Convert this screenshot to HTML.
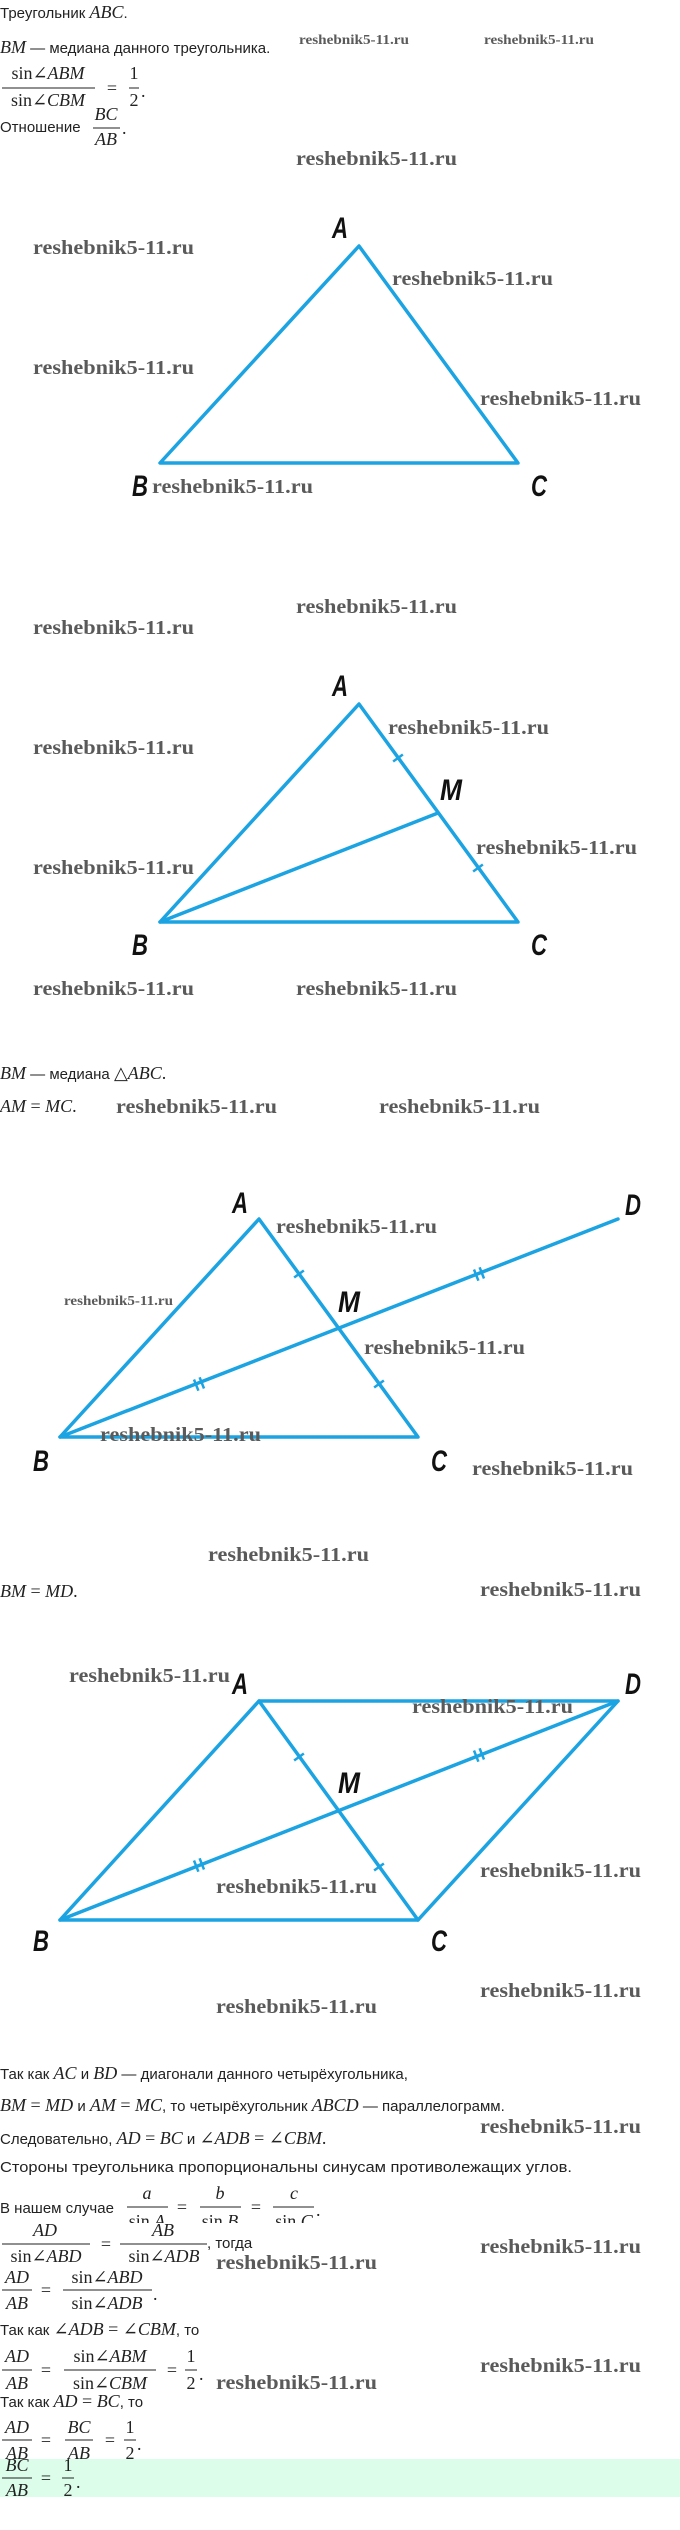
<!DOCTYPE html>
<html><head><meta charset="utf-8">
<style>
html,body{margin:0;padding:0;background:#fff;}
svg{display:block;}
.t{font-family:"Liberation Sans","DejaVu Sans",sans-serif;font-size:15px;fill:#222;}
.m{font-family:"Liberation Serif","DejaVu Serif",serif;font-style:italic;font-size:18px;fill:#222;}
.r{font-family:"Liberation Serif","DejaVu Serif",serif;font-style:normal;font-size:18px;fill:#222;}
.w{font-family:"Liberation Serif","DejaVu Serif",serif;font-weight:bold;font-size:20px;fill:#5a5a5a;}
.ws{font-family:"Liberation Serif","DejaVu Serif",serif;font-weight:bold;font-size:14px;fill:#5a5a5a;}
.L{font-family:"Liberation Sans","DejaVu Sans",sans-serif;font-weight:bold;font-style:italic;font-size:30px;fill:#111;}
.b{stroke:#1ba3e2;stroke-width:3.5;fill:none;stroke-linecap:round;stroke-linejoin:round;}
.k{stroke:#1ba3e2;stroke-width:2.5;}
.bar{stroke:#222;stroke-width:1;}
</style></head><body>
<svg width="680" height="2530" viewBox="0 0 680 2530" xmlns="http://www.w3.org/2000/svg">
<!-- header text -->
<text x="0" y="18" class="t">Треугольник <tspan class="m">ABC</tspan>.</text>
<text x="0" y="53"><tspan class="m">BM</tspan><tspan class="t"> — медиана данного треугольника.</tspan></text>
<text x="299" y="44" class="ws" textLength="110" lengthAdjust="spacingAndGlyphs">reshebnik5-11.ru</text>
<text x="484" y="44" class="ws" textLength="110" lengthAdjust="spacingAndGlyphs">reshebnik5-11.ru</text>
<text x="48" y="79" class="r" text-anchor="middle">sin∠<tspan class="m">ABM</tspan></text>
<line x1="2" y1="88" x2="95" y2="88" class="bar"/>
<text x="48" y="106" class="r" text-anchor="middle">sin∠<tspan class="m">CBM</tspan></text>
<text x="112" y="94" class="r" text-anchor="middle">=</text>
<text x="134" y="79" class="r" text-anchor="middle">1</text>
<line x1="129" y1="88" x2="139" y2="88" class="bar"/>
<text x="134" y="106" class="r" text-anchor="middle">2</text>
<text x="141" y="97" class="r">.</text>
<text x="0" y="132" class="t">Отношение</text>
<text x="106" y="120" class="m" text-anchor="middle">BC</text>
<line x1="93" y1="128" x2="120" y2="128" class="bar"/>
<text x="106" y="145" class="m" text-anchor="middle">AB</text>
<text x="122" y="134" class="r">.</text>

<!-- triangle 1 -->
<text x="296" y="165" class="w" textLength="161" lengthAdjust="spacingAndGlyphs">reshebnik5-11.ru</text>
<polygon points="359,246 160,463 518,463" class="b"/>
<text x="332" y="238" class="L" textLength="16" lengthAdjust="spacingAndGlyphs">A</text>
<text x="132" y="496" class="L" textLength="16" lengthAdjust="spacingAndGlyphs">B</text>
<text x="531" y="496" class="L" textLength="16" lengthAdjust="spacingAndGlyphs">C</text>
<text x="33" y="254" class="w" textLength="161" lengthAdjust="spacingAndGlyphs">reshebnik5-11.ru</text>
<text x="33" y="374" class="w" textLength="161" lengthAdjust="spacingAndGlyphs">reshebnik5-11.ru</text>
<text x="392" y="285" class="w" textLength="161" lengthAdjust="spacingAndGlyphs">reshebnik5-11.ru</text>
<text x="480" y="405" class="w" textLength="161" lengthAdjust="spacingAndGlyphs">reshebnik5-11.ru</text>
<text x="152" y="493" class="w" textLength="161" lengthAdjust="spacingAndGlyphs">reshebnik5-11.ru</text>

<!-- triangle 2 -->
<text x="296" y="613" class="w" textLength="161" lengthAdjust="spacingAndGlyphs">reshebnik5-11.ru</text>
<text x="33" y="634" class="w" textLength="161" lengthAdjust="spacingAndGlyphs">reshebnik5-11.ru</text>
<polygon points="359,704 160,922 518,922" class="b"/>
<line x1="160" y1="922" x2="438" y2="813" class="b"/>
<line x1="393.15" y1="761.5" x2="402.85" y2="754.5" class="k"/>
<line x1="473.15" y1="871.5" x2="482.85" y2="864.5" class="k"/>
<text x="332" y="696" class="L" textLength="16" lengthAdjust="spacingAndGlyphs">A</text>
<text x="440" y="800" class="L" textLength="22" lengthAdjust="spacingAndGlyphs">M</text>
<text x="132" y="955" class="L" textLength="16" lengthAdjust="spacingAndGlyphs">B</text>
<text x="531" y="955" class="L" textLength="16" lengthAdjust="spacingAndGlyphs">C</text>
<text x="388" y="734" class="w" textLength="161" lengthAdjust="spacingAndGlyphs">reshebnik5-11.ru</text>
<text x="33" y="754" class="w" textLength="161" lengthAdjust="spacingAndGlyphs">reshebnik5-11.ru</text>
<text x="476" y="854" class="w" textLength="161" lengthAdjust="spacingAndGlyphs">reshebnik5-11.ru</text>
<text x="33" y="874" class="w" textLength="161" lengthAdjust="spacingAndGlyphs">reshebnik5-11.ru</text>
<text x="33" y="995" class="w" textLength="161" lengthAdjust="spacingAndGlyphs">reshebnik5-11.ru</text>
<text x="296" y="995" class="w" textLength="161" lengthAdjust="spacingAndGlyphs">reshebnik5-11.ru</text>

<text x="0" y="1079"><tspan class="m">BM</tspan><tspan class="t"> — медиана </tspan><tspan class="r">△</tspan><tspan class="m">ABC</tspan><tspan class="r">.</tspan></text>
<text x="0" y="1112"><tspan class="m">AM</tspan><tspan class="r"> = </tspan><tspan class="m">MC</tspan><tspan class="r">.</tspan></text>
<text x="116" y="1113" class="w" textLength="161" lengthAdjust="spacingAndGlyphs">reshebnik5-11.ru</text>
<text x="379" y="1113" class="w" textLength="161" lengthAdjust="spacingAndGlyphs">reshebnik5-11.ru</text>

<!-- triangle 3 -->
<polygon points="259,1219 60,1437 418,1437" class="b"/>
<line x1="60" y1="1437" x2="618" y2="1219" class="b"/>
<line x1="294.15" y1="1277.5" x2="303.85" y2="1270.5" class="k"/>
<line x1="374.15" y1="1387.5" x2="383.85" y2="1380.5" class="k"/>
<line x1="194" y1="1379.5" x2="198.4" y2="1390.7" class="k"/>
<line x1="199.6" y1="1377.3" x2="204" y2="1388.5" class="k"/>
<line x1="474" y1="1269.5" x2="478.4" y2="1280.7" class="k"/>
<line x1="479.6" y1="1267.3" x2="484" y2="1278.5" class="k"/>
<text x="232" y="1213" class="L" textLength="16" lengthAdjust="spacingAndGlyphs">A</text>
<text x="625" y="1215" class="L" textLength="16" lengthAdjust="spacingAndGlyphs">D</text>
<text x="338" y="1312" class="L" textLength="22" lengthAdjust="spacingAndGlyphs">M</text>
<text x="33" y="1471" class="L" textLength="16" lengthAdjust="spacingAndGlyphs">B</text>
<text x="431" y="1471" class="L" textLength="16" lengthAdjust="spacingAndGlyphs">C</text>
<text x="64" y="1305" class="ws" textLength="109" lengthAdjust="spacingAndGlyphs">reshebnik5-11.ru</text>
<text x="276" y="1233" class="w" textLength="161" lengthAdjust="spacingAndGlyphs">reshebnik5-11.ru</text>
<text x="364" y="1354" class="w" textLength="161" lengthAdjust="spacingAndGlyphs">reshebnik5-11.ru</text>
<text x="100" y="1441" class="w" textLength="161" lengthAdjust="spacingAndGlyphs">reshebnik5-11.ru</text>
<text x="472" y="1475" class="w" textLength="161" lengthAdjust="spacingAndGlyphs">reshebnik5-11.ru</text>
<text x="208" y="1561" class="w" textLength="161" lengthAdjust="spacingAndGlyphs">reshebnik5-11.ru</text>
<text x="480" y="1596" class="w" textLength="161" lengthAdjust="spacingAndGlyphs">reshebnik5-11.ru</text>
<text x="0" y="1597"><tspan class="m">BM</tspan><tspan class="r"> = </tspan><tspan class="m">MD</tspan><tspan class="r">.</tspan></text>

<!-- parallelogram -->
<polygon points="259,1701 618,1701 418,1920 60,1920" class="b"/>
<line x1="259" y1="1701" x2="418" y2="1920" class="b"/>
<line x1="60" y1="1920" x2="618" y2="1701" class="b"/>
<line x1="294.15" y1="1760.5" x2="303.85" y2="1753.5" class="k"/>
<line x1="374.15" y1="1870.5" x2="383.85" y2="1863.5" class="k"/>
<line x1="194" y1="1860.5" x2="198.4" y2="1871.7" class="k"/>
<line x1="199.6" y1="1858.3" x2="204" y2="1869.5" class="k"/>
<line x1="474" y1="1750.5" x2="478.4" y2="1761.7" class="k"/>
<line x1="479.6" y1="1748.3" x2="484" y2="1759.5" class="k"/>
<text x="232" y="1694" class="L" textLength="16" lengthAdjust="spacingAndGlyphs">A</text>
<text x="625" y="1694" class="L" textLength="16" lengthAdjust="spacingAndGlyphs">D</text>
<text x="338" y="1793" class="L" textLength="22" lengthAdjust="spacingAndGlyphs">M</text>
<text x="33" y="1951" class="L" textLength="16" lengthAdjust="spacingAndGlyphs">B</text>
<text x="431" y="1951" class="L" textLength="16" lengthAdjust="spacingAndGlyphs">C</text>
<text x="69" y="1682" class="w" textLength="161" lengthAdjust="spacingAndGlyphs">reshebnik5-11.ru</text>
<text x="412" y="1713" class="w" textLength="161" lengthAdjust="spacingAndGlyphs">reshebnik5-11.ru</text>
<text x="480" y="1877" class="w" textLength="161" lengthAdjust="spacingAndGlyphs">reshebnik5-11.ru</text>
<text x="216" y="1893" class="w" textLength="161" lengthAdjust="spacingAndGlyphs">reshebnik5-11.ru</text>
<text x="480" y="1997" class="w" textLength="161" lengthAdjust="spacingAndGlyphs">reshebnik5-11.ru</text>
<text x="216" y="2013" class="w" textLength="161" lengthAdjust="spacingAndGlyphs">reshebnik5-11.ru</text>

<!-- bottom text -->
<text x="0" y="2079"><tspan class="t">Так как </tspan><tspan class="m">AC</tspan><tspan class="t"> и </tspan><tspan class="m">BD</tspan><tspan class="t"> — диагонали данного четырёхугольника,</tspan></text>
<text x="0" y="2111"><tspan class="m">BM</tspan><tspan class="r"> = </tspan><tspan class="m">MD</tspan><tspan class="t"> и </tspan><tspan class="m">AM</tspan><tspan class="r"> = </tspan><tspan class="m">MC</tspan><tspan class="t">, то четырёхугольник </tspan><tspan class="m">ABCD</tspan><tspan class="t"> — параллелограмм.</tspan></text>
<text x="480" y="2133" class="w" textLength="161" lengthAdjust="spacingAndGlyphs">reshebnik5-11.ru</text>
<text x="0" y="2144"><tspan class="t">Следовательно, </tspan><tspan class="m">AD</tspan><tspan class="r"> = </tspan><tspan class="m">BC</tspan><tspan class="t"> и </tspan><tspan class="r">∠</tspan><tspan class="m">ADB</tspan><tspan class="r"> = ∠</tspan><tspan class="m">CBM</tspan><tspan class="r">.</tspan></text>
<text x="0" y="2172" class="t" textLength="572" lengthAdjust="spacingAndGlyphs">Стороны треугольника пропорциональны синусам противолежащих углов.</text>

<text x="0" y="2213" class="t">В нашем случае</text>
<text x="147" y="2199" class="m" text-anchor="middle">a</text>
<line x1="127" y1="2207" x2="168" y2="2207" class="bar"/>
<text x="147" y="2227" class="r" text-anchor="middle">sin <tspan class="m">A</tspan></text>
<text x="182" y="2213" class="r" text-anchor="middle">=</text>
<text x="220" y="2199" class="m" text-anchor="middle">b</text>
<line x1="200" y1="2207" x2="241" y2="2207" class="bar"/>
<text x="220" y="2227" class="r" text-anchor="middle">sin <tspan class="m">B</tspan></text>
<text x="256" y="2213" class="r" text-anchor="middle">=</text>
<text x="294" y="2199" class="m" text-anchor="middle">c</text>
<line x1="273" y1="2207" x2="314" y2="2207" class="bar"/>
<text x="294" y="2227" class="r" text-anchor="middle">sin <tspan class="m">C</tspan></text>
<text x="316" y="2216" class="r">.</text>
<rect x="0" y="2223" width="340" height="6" fill="#fff"/>

<text x="45" y="2236" class="m" text-anchor="middle">AD</text>
<line x1="2" y1="2244" x2="90" y2="2244" class="bar"/>
<text x="46" y="2262" class="r" text-anchor="middle">sin∠<tspan class="m">ABD</tspan></text>
<text x="106" y="2250" class="r" text-anchor="middle">=</text>
<text x="163" y="2236" class="m" text-anchor="middle">AB</text>
<line x1="120" y1="2244" x2="207" y2="2244" class="bar"/>
<text x="164" y="2262" class="r" text-anchor="middle">sin∠<tspan class="m">ADB</tspan></text>
<text x="207" y="2248" class="t" font-size="13">, тогда</text>
<text x="480" y="2253" class="w" textLength="161" lengthAdjust="spacingAndGlyphs">reshebnik5-11.ru</text>
<text x="216" y="2269" class="w" textLength="161" lengthAdjust="spacingAndGlyphs">reshebnik5-11.ru</text>

<text x="17" y="2283" class="m" text-anchor="middle">AD</text>
<line x1="2" y1="2290" x2="32" y2="2290" class="bar"/>
<text x="17" y="2309" class="m" text-anchor="middle">AB</text>
<text x="46" y="2296" class="r" text-anchor="middle">=</text>
<text x="107" y="2283" class="r" text-anchor="middle">sin∠<tspan class="m">ABD</tspan></text>
<line x1="63" y1="2290" x2="152" y2="2290" class="bar"/>
<text x="107" y="2309" class="r" text-anchor="middle">sin∠<tspan class="m">ADB</tspan></text>
<text x="153" y="2300" class="r">.</text>

<text x="0" y="2335"><tspan class="t">Так как </tspan><tspan class="r">∠</tspan><tspan class="m">ADB</tspan><tspan class="r"> = ∠</tspan><tspan class="m">CBM</tspan><tspan class="t">, то</tspan></text>

<text x="17" y="2362" class="m" text-anchor="middle">AD</text>
<line x1="2" y1="2370" x2="32" y2="2370" class="bar"/>
<text x="17" y="2389" class="m" text-anchor="middle">AB</text>
<text x="46" y="2376" class="r" text-anchor="middle">=</text>
<text x="110" y="2362" class="r" text-anchor="middle">sin∠<tspan class="m">ABM</tspan></text>
<line x1="64" y1="2370" x2="156" y2="2370" class="bar"/>
<text x="110" y="2389" class="r" text-anchor="middle">sin∠<tspan class="m">CBM</tspan></text>
<text x="172" y="2376" class="r" text-anchor="middle">=</text>
<text x="191" y="2362" class="r" text-anchor="middle">1</text>
<line x1="185" y1="2370" x2="197" y2="2370" class="bar"/>
<text x="191" y="2389" class="r" text-anchor="middle">2</text>
<text x="199" y="2380" class="r">.</text>
<text x="480" y="2372" class="w" textLength="161" lengthAdjust="spacingAndGlyphs">reshebnik5-11.ru</text>
<text x="216" y="2389" class="w" textLength="161" lengthAdjust="spacingAndGlyphs">reshebnik5-11.ru</text>
<rect x="0" y="2390" width="300" height="4" fill="#fff"/>

<text x="0" y="2407"><tspan class="t">Так как </tspan><tspan class="m">AD</tspan><tspan class="r"> = </tspan><tspan class="m">BC</tspan><tspan class="t">, то</tspan></text>

<text x="17" y="2433" class="m" text-anchor="middle">AD</text>
<line x1="2" y1="2440" x2="32" y2="2440" class="bar"/>
<text x="17" y="2459" class="m" text-anchor="middle">AB</text>
<text x="46" y="2446" class="r" text-anchor="middle">=</text>
<text x="79" y="2433" class="m" text-anchor="middle">BC</text>
<line x1="65" y1="2440" x2="93" y2="2440" class="bar"/>
<text x="79" y="2459" class="m" text-anchor="middle">AB</text>
<text x="110" y="2446" class="r" text-anchor="middle">=</text>
<text x="130" y="2433" class="r" text-anchor="middle">1</text>
<line x1="124" y1="2440" x2="136" y2="2440" class="bar"/>
<text x="130" y="2459" class="r" text-anchor="middle">2</text>
<text x="137" y="2450" class="r">.</text>

<rect x="0" y="2459" width="680" height="38" fill="#dcfdea"/>
<text x="17" y="2471" class="m" text-anchor="middle">BC</text>
<line x1="2" y1="2478" x2="32" y2="2478" class="bar"/>
<text x="17" y="2496" class="m" text-anchor="middle">AB</text>
<text x="46" y="2484" class="r" text-anchor="middle">=</text>
<text x="68" y="2471" class="r" text-anchor="middle">1</text>
<line x1="62" y1="2478" x2="74" y2="2478" class="bar"/>
<text x="68" y="2496" class="r" text-anchor="middle">2</text>
<text x="76" y="2488" class="r">.</text>
</svg>
</body></html>
